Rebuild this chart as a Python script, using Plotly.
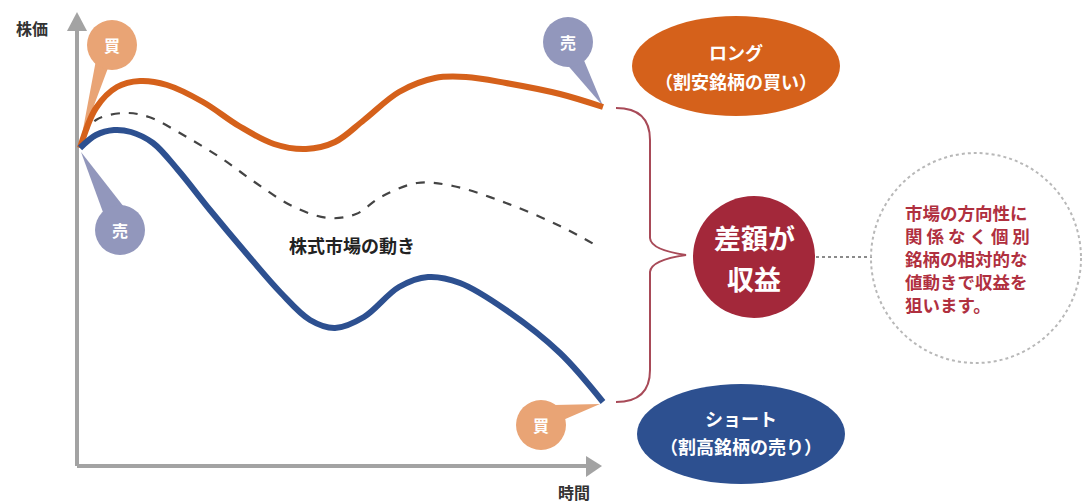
import plotly.graph_objects as go

# ---- data (canvas coordinates: x = time, y = price position, y axis reversed) ----
long_x = [80, 96, 117, 140, 167, 203, 239, 274, 306, 335, 364, 399, 435, 466, 506, 560, 603]
long_y = [148, 108, 87, 81, 85, 102, 126, 144, 149, 142, 120, 92, 78, 77, 83, 94, 107]

market_x = [84, 96, 124, 149, 185, 221, 256, 292, 328, 356, 381, 417, 453, 506, 560, 599]
market_y = [136, 120, 113, 117, 136, 158, 183, 206, 218, 214, 197, 183, 186, 203, 226, 247]

short_x = [80, 96, 114, 131, 153, 178, 210, 246, 281, 310, 335, 364, 399, 428, 460, 506, 560, 603]
short_y = [148, 135, 130, 132, 143, 170, 210, 253, 293, 320, 328, 317, 287, 277, 283, 310, 353, 402]

axis_labels = ["株価", "時間"]
market_label = "株式市場の動き"
long_label = ["ロング", "（割安銘柄の買い）"]
short_label = ["ショート", "（割高銘柄の売り）"]
profit_label = ["差額が", "収益"]
note_lines = ["市場の方向性に", "関 係 な く 個 別", "銘柄の相対的な", "値動きで収益を", "狙います。"]

FONT = "Noto Sans CJK JP"
ORANGE = "#D5611B"
BLUE = "#2D5090"
RED = "#A3283A"
GRAY = "#A3A3A3"
BUY = "#E9A475"
SELL = "#9297BC"

fig = go.Figure()

shapes = []
# axes
shapes.append(dict(type="line", x0=77, y0=466, x1=77, y1=28, line=dict(color=GRAY, width=4), layer="below"))
shapes.append(dict(type="path", path="M 67,31 L 87,31 L 77,12 Z", fillcolor=GRAY, line=dict(width=0), layer="below"))
shapes.append(dict(type="line", x0=77, y0=466, x1=588, y1=466, line=dict(color=GRAY, width=4), layer="below"))
shapes.append(dict(type="path", path="M 586,456 L 586,477 L 602,466 Z", fillcolor=GRAY, line=dict(width=0), layer="below"))

# speech bubbles (circle + tail)
def bubble(cx, cy, r, tail, color):
    shapes.append(dict(type="path", path="M %d,%d L %d,%d L %d,%d Z" % tuple(tail),
                       fillcolor=color, line=dict(width=0), layer="below"))
    shapes.append(dict(type="circle", x0=cx - r, x1=cx + r, y0=cy - r, y1=cy + r,
                       fillcolor=color, line=dict(width=0), layer="below"))

bubble(112, 45, 25, [96, 60, 108, 68, 81, 140], BUY)
bubble(568, 42, 25, [564, 61, 583, 58, 603, 106], SELL)
bubble(120, 230, 25, [104, 215, 124, 207, 81, 152], SELL)
bubble(541, 425, 25, [554, 405, 563, 420, 600, 404], BUY)

# ellipses
shapes.append(dict(type="circle", x0=632, x1=840, y0=16, y1=116, fillcolor=ORANGE, line=dict(width=0)))
shapes.append(dict(type="circle", x0=637, x1=845, y0=384, y1=484, fillcolor=BLUE, line=dict(width=0)))

# brace
shapes.append(dict(type="path",
                   path="M 616,108 Q 650,108 650,140 L 650,238 Q 651,250 686,255 Q 651,260 650,272 L 650,370 Q 650,402 616,402",
                   line=dict(color="#A84A58", width=2)))

# profit circle
shapes.append(dict(type="circle", x0=693, x1=815, y0=196, y1=318, fillcolor=RED, line=dict(width=0)))
# dotted connector and dotted circle
shapes.append(dict(type="line", x0=816, y0=257, x1=872, y1=257, line=dict(color="#8A8A8A", width=2, dash="dot")))
shapes.append(dict(type="circle", x0=871, x1=1081, y0=153, y1=363, line=dict(color="#B8B8B8", width=2, dash="dot")))

# curves
fig.add_trace(go.Scatter(x=market_x, y=market_y, mode="lines", line=dict(color="#444444", width=2.2, dash="dash", shape="spline", smoothing=1.0), hoverinfo="skip"))
fig.add_trace(go.Scatter(x=long_x, y=long_y, mode="lines", line=dict(color=ORANGE, width=6, shape="spline", smoothing=1.0), hoverinfo="skip"))
fig.add_trace(go.Scatter(x=short_x, y=short_y, mode="lines", line=dict(color=BLUE, width=6, shape="spline", smoothing=1.0), hoverinfo="skip"))

ann = []
def txt(x, y, s, size, color, xanchor="center"):
    ann.append(dict(x=x, y=y, text="<b>%s</b>" % s, showarrow=False, xanchor=xanchor, yanchor="middle",
                    font=dict(family=FONT, size=size, color=color)))

txt(32, 28, axis_labels[0], 16, "#333333")
txt(574, 492, axis_labels[1], 16, "#333333")
txt(352, 245, market_label, 18, "#222222")
txt(112, 45, "買", 16, "white")
txt(568, 42, "売", 16, "white")
txt(120, 230, "売", 16, "white")
txt(541, 425, "買", 16, "white")
txt(736, 52, long_label[0], 18, "white")
txt(736, 81, long_label[1], 18, "white")
txt(741, 418, short_label[0], 18, "white")
txt(741, 446, short_label[1], 18, "white")
txt(754, 237, profit_label[0], 27, "white")
txt(754, 278, profit_label[1], 27, "white")
for i, line in enumerate(note_lines):
    txt(903, 212 + i * 23, line, 17.5, "#B0303F", xanchor="left")

fig.update_layout(
    width=1089, height=504,
    margin=dict(l=0, r=0, t=0, b=0),
    paper_bgcolor="white", plot_bgcolor="white",
    showlegend=False,
    shapes=shapes, annotations=ann,
    xaxis=dict(range=[0, 1089], visible=False, fixedrange=True),
    yaxis=dict(range=[504, 0], visible=False, fixedrange=True),
)

fig.write_html("out.html", config={"displayModeBar": False},
               post_script="document.body.style.margin='0px';document.body.style.overflow='hidden';")
